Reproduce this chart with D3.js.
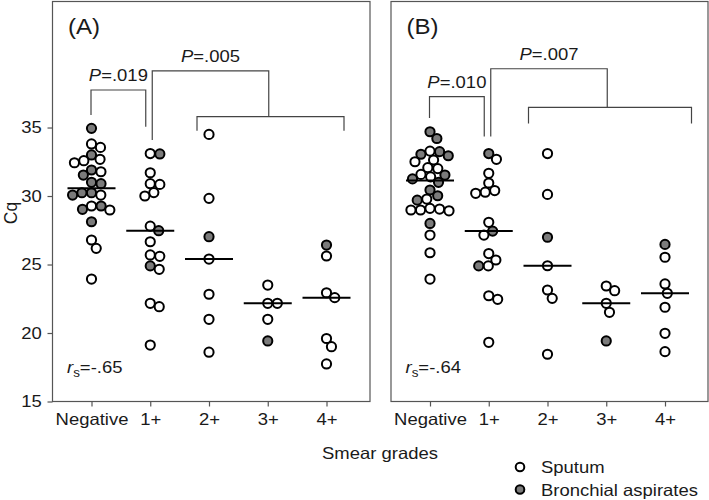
<!DOCTYPE html>
<html>
<head>
<meta charset="utf-8">
<script src="https://cdn.jsdelivr.net/npm/d3@7"></script>
<style>
  html, body { margin: 0; padding: 0; background: #fff; }
  svg { display: block; font-family: "Liberation Sans", Arial, sans-serif; }
  text { fill: #1a1a1a; }
</style>
</head>
<body>
<svg id="chart" width="709" height="500"></svg>
<script>
// ---------------- DATA ----------------
const categories = ["Negative", "1+", "2+", "3+", "4+"];
const yTicks = [15, 20, 25, 30, 35];
const panelLabels = ["(A)", "(B)"];
const rsValues = ["=-.65", "=-.64"];
const pLabelsNear = ["=.019", "=.010"];
const pLabelsFar = ["=.005", "=.007"];
const legendLabels = ["Sputum", "Bronchial aspirates"];

// Panel A, Cq values per smear grade
const sputumA = [
  [33.8, 33.55, 32.68, 32.58, 32.43, 31.77, 30.07, 29.27, 28.98, 26.79, 26.18, 23.94],
  [33.1, 31.7, 30.9, 30.85, 30.25, 30.0, 27.8, 26.66, 25.7, 25.6, 24.65, 22.17, 21.92, 19.12],
  [34.5, 29.83, 25.4, 22.83, 21.0, 18.6],
  [23.5, 22.17, 22.17, 21.0],
  [25.62, 22.94, 22.58, 19.6, 19.0, 17.74]
];
const bronchA = [
  [34.94, 33.0, 31.9, 31.53, 31.0, 30.9, 30.24, 30.24, 30.07, 29.27, 29.03, 28.12],
  [33.07, 27.47, 24.9],
  [27.03],
  [19.42],
  [26.42]
];
// Panel B
const sputumB = [
  [33.28, 32.63, 32.5, 32.07, 32.0, 31.58, 31.4, 29.78, 29.05, 28.98, 28.92, 28.98, 29.1, 27.15, 25.86, 23.94],
  [32.68, 31.66, 30.95, 30.4, 30.28, 30.2, 28.08, 27.15, 25.8, 25.33, 24.9, 22.72, 22.46, 19.32],
  [33.1, 30.12, 24.91, 23.14, 22.53, 18.45],
  [23.43, 23.09, 22.17, 21.51],
  [25.53, 23.58, 22.9, 21.88, 19.98, 18.64]
];
const bronchB = [
  [34.69, 34.2, 33.24, 33.05, 32.94, 31.53, 31.25, 31.0, 30.44, 30.02, 29.7, 28.0],
  [33.1, 27.44, 24.9],
  [26.99],
  [19.42],
  [26.47]
];

// ---------------- LAYOUT ----------------
const svg = d3.select("#chart");
const SX = 1.12;           // horizontal stretch of the original typography
const FS = 16.5;
const TOP = 1.5, BOTTOM = 401.5;
const panels = [
  { left: 52.5, right: 370, sputum: sputumA, bronch: bronchA, yAxis: true },
  { left: 391, right: 708, sputum: sputumB, bronch: bronchB, yAxis: false }
];
const y = d3.scaleLinear().domain([15, 44.2]).range([BOTTOM, TOP]);
const R = 4.6, DIAM = 9.6;
const GRAY = "#7b7b7b";

function txt(parent, x, yy, str, anchor, size) {
  return parent.append("text")
    .attr("transform", `translate(${x},${yy}) scale(${SX},1)`)
    .attr("text-anchor", anchor || "start")
    .style("font-size", (size || FS) + "px");
}

function pText(parent, x, yy, rest) {
  const t = txt(parent, x, yy, "", "middle");
  t.append("tspan").style("font-style", "italic").text("P");
  t.append("tspan").text(rest);
}

function swarm(items, cx) {
  const pts = items.map(d => ({ ...d, py: y(d.v) })).sort((a, b) => a.py - b.py);
  const placed = [];
  for (const p of pts) {
    const cands = [0];
    for (const q of placed) {
      const dy = p.py - q.py;
      if (Math.abs(dy) < DIAM) {
        const dx = Math.sqrt(DIAM * DIAM - dy * dy);
        cands.push(q.dx + dx, q.dx - dx);
      }
    }
    cands.sort((a, b) => Math.abs(a) - Math.abs(b));
    for (const c of cands) {
      if (placed.every(q => (q.dx - c) ** 2 + (q.py - p.py) ** 2 >= DIAM * DIAM - 0.01)) { p.dx = c; break; }
    }
    placed.push(p);
  }
  return placed.map(p => ({ ...p, px: cx + p.dx }));
}

panels.forEach((pn, pi) => {
  const g = svg.append("g");
  const x = d3.scalePoint().domain(categories)
    .range([pn.left + 39, pn.left + 39 + 4 * 58.75]);

  // frame
  g.append("rect").attr("x", pn.left).attr("y", TOP)
    .attr("width", pn.right - pn.left).attr("height", BOTTOM - TOP)
    .attr("fill", "none").attr("stroke", "#555").attr("stroke-width", 1.2);

  // x axis
  const xa = g.append("g").attr("transform", `translate(0,${BOTTOM})`)
    .call(d3.axisBottom(x).tickSize(5).tickPadding(6.5));
  xa.select(".domain").remove();
  xa.selectAll(".tick line").attr("stroke", "#555").attr("stroke-width", 1.2);
  xa.selectAll(".tick text").style("font-size", FS + "px")
    .style("font-family", "Liberation Sans, Arial, sans-serif")
    .attr("fill", "#1a1a1a").attr("transform", `scale(${SX},1)`);

  if (pn.yAxis) {
    const ya = g.append("g").attr("transform", `translate(${pn.left},0)`)
      .call(d3.axisLeft(y).tickValues(yTicks).tickSize(5).tickPadding(4.6));
    ya.select(".domain").remove();
    ya.selectAll(".tick line").attr("stroke", "#555").attr("stroke-width", 1.2);
    ya.selectAll(".tick text").style("font-size", FS + "px")
      .style("font-family", "Liberation Sans, Arial, sans-serif")
      .attr("fill", "#1a1a1a").attr("transform", `scale(${SX},1)`);
  }

  // panel label
  txt(g, pn.left + 15.5, 34, "", "start", 21.5).text(panelLabels[pi]);

  // points + medians
  categories.forEach((c, ci) => {
    const items = pn.sputum[ci].map(v => ({ v, t: "s" }))
      .concat(pn.bronch[ci].map(v => ({ v, t: "b" })));
    const pts = swarm(items, x(c));
    g.append("g").selectAll("circle").data(pts).join("circle")
      .attr("cx", d => d.px).attr("cy", d => d.py).attr("r", R)
      .attr("fill", d => d.t === "b" ? GRAY : "#fff")
      .attr("stroke", "#000").attr("stroke-width", 2);
    const med = d3.median(items, d => d.v);
    g.append("line").attr("x1", x(c) - 24).attr("x2", x(c) + 24)
      .attr("y1", y(med)).attr("y2", y(med))
      .attr("stroke", "#000").attr("stroke-width", 2);
  });

  // brackets
  const br = g.append("g").attr("fill", "none").attr("stroke", "#444").attr("stroke-width", 1.2);
  const isA = pi === 0;
  const b1top = isA ? 37.74 : 37.26;
  const b1L = isA ? 35.91 : 35.69;
  const b1R = isA ? 35.06 : 34.35;
  const x0 = x("Negative") - 0.5, x1 = x("1+") - 4.5;
  br.append("path").attr("d", d3.line()([[x0, y(b1L)], [x0, y(b1top)], [x1, y(b1top)], [x1, y(b1R)]]));
  pText(g, (x0 + x1) / 2, y(b1top) - 9, pLabelsNear[pi]);

  const b2top = isA ? 39.13 : 39.29;
  const b2L = isA ? 34.09 : 34.35;
  const b2low = isA ? 35.79 : 36.47;
  const b2ends = isA ? 34.77 : 35.30;
  const xl = x("1+") + 2, xr = x("3+") + 1;
  const lx0 = x("2+") - 12 - (isA ? 0 : 7), lx1 = x("4+") + (isA ? 17.5 : 26.5);
  br.append("path").attr("d", d3.line()([[xl, y(b2L)], [xl, y(b2top)], [xr, y(b2top)], [xr, y(b2low)]]));
  br.append("path").attr("d", d3.line()([[lx0, y(b2ends)], [lx0, y(b2low)], [lx1, y(b2low)], [lx1, y(b2ends)]]));
  pText(g, (xl + xr) / 2, y(b2top) - 8.5, pLabelsFar[pi]);

  // r_s annotation
  const rt = txt(g, pn.left + 14.5, 373, "", "start");
  rt.append("tspan").style("font-style", "italic").text("r");
  rt.append("tspan").attr("dy", 4).style("font-size", "12px").text("s");
  rt.append("tspan").attr("dy", -4).text(rsValues[pi]);
});

// y axis title
svg.append("text").attr("transform", "translate(17,213) rotate(-90)")
  .attr("text-anchor", "middle").style("font-size", "17.5px").text("Cq");

// x axis title
txt(svg, 380, 459, "", "middle").text("Smear grades");

// legend
const lg = svg.append("g");
legendLabels.forEach((l, i) => {
  const ly = 467 + i * 22.5;
  lg.append("circle").attr("cx", 520).attr("cy", ly).attr("r", 4.3)
    .attr("fill", i === 1 ? GRAY : "#fff").attr("stroke", "#000").attr("stroke-width", 2);
  txt(lg, 541, ly + 6, "", "start").text(l);
});
</script>
</body>
</html>
